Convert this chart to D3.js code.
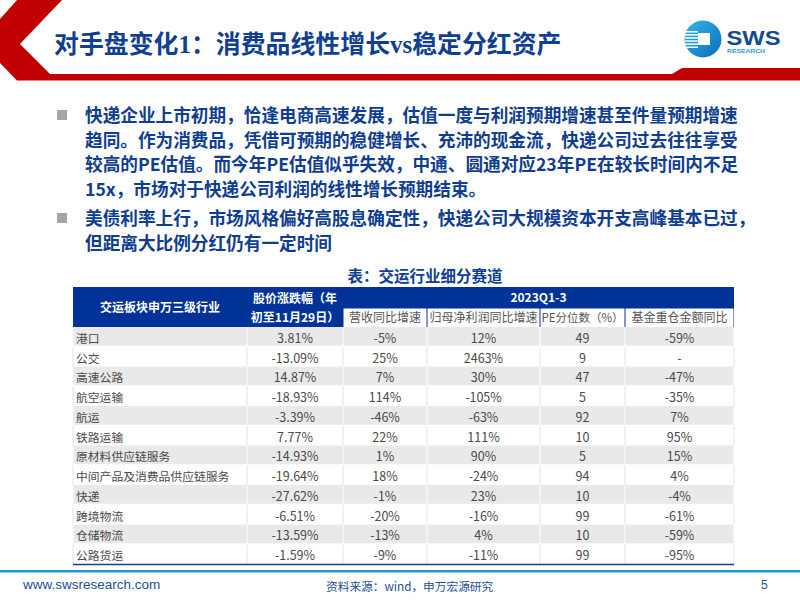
<!DOCTYPE html>
<html>
<head>
<meta charset="utf-8">
<script src="https://cdnjs.cloudflare.com/ajax/libs/d3/7.8.5/d3.min.js"></script>
<style>
  html, body { margin: 0; padding: 0; background: #fff; }
  svg { display: block; }
  text { font-family: "Noto Sans CJK SC", "Noto Sans", sans-serif; }
</style>
</head>
<body lang="zh-CN">
<svg id="slide" width="800" height="600" xmlns="http://www.w3.org/2000/svg"></svg>
<script>
  // full-width punctuation is kept as escapes
  var titleText = '对手盘变化1\uFF1A消费品线性增长vs稳定分红资产';
  var bulletOne = [
    '快递企业上市初期\uFF0C恰逢电商高速发展\uFF0C估值一度与利润预期增速甚至件量预期增速',
    '趋同。作为消费品\uFF0C凭借可预期的稳健增长、充沛的现金流\uFF0C快递公司过去往往享受',
    '较高的PE估值。而今年PE估值似乎失效\uFF0C中通、圆通对应23年PE在较长时间内不足',
    '15x\uFF0C市场对于快递公司利润的线性增长预期结束。'
  ];
  var bulletTwo = [
    '美债利率上行\uFF0C市场风格偏好高股息确定性\uFF0C快递公司大规模资本开支高峰基本已过\uFF0C',
    '但距离大比例分红仍有一定时间'
  ];
  var tableTitle = '表\uFF1A交运行业细分赛道';
  var sourceText = '资料来源\uFF1Awind\uFF0C申万宏源研究';
  var subHeaders = ['营收同比增速', '归母净利润同比增速', 'PE分位数\uFF08%\uFF09', '基金重仓金额同比'];

  var industries = ['港口', '公交', '高速公路', '航空运输', '航运', '铁路运输', '原材料供应链服务',
    '中间产品及消费品供应链服务', '快递', '跨境物流', '仓储物流', '公路货运'];
  var priceChange = ['3.81%', '-13.09%', '14.87%', '-18.93%', '-3.39%', '7.77%', '-14.93%',
    '-19.64%', '-27.62%', '-6.51%', '-13.59%', '-1.59%'];
  var revenueYoy = ['-5%', '25%', '7%', '114%', '-46%', '22%', '1%', '18%', '-1%', '-20%', '-13%', '-9%'];
  var profitYoy = ['12%', '2463%', '30%', '-105%', '-63%', '111%', '90%', '-24%', '23%', '-16%', '4%', '-11%'];
  var pePercentile = ['49', '9', '47', '5', '92', '10', '5', '94', '10', '99', '10', '99'];
  var fundHoldYoy = ['-59%', '-', '-47%', '-35%', '7%', '95%', '15%', '4%', '-4%', '-61%', '-59%', '-95%'];

  var columns = [industries, priceChange, revenueYoy, profitYoy, pePercentile, fundHoldYoy];

  var NAVY = '#003298', INK = '#0f3d91', RED = '#c00000', TEAL = '#1f9ac8', CELL = '#4a4a4a';
  var colEdges = [73, 247, 343, 427, 540, 625, 734];

  var svg = d3.select('#slide');
  var defs = svg.append('defs');
  var grad = defs.append('linearGradient').attr('id', 'logoGrad')
    .attr('x1', 0).attr('y1', 0).attr('x2', 1).attr('y2', 1);
  grad.append('stop').attr('offset', '0%').attr('stop-color', '#35b6ea');
  grad.append('stop').attr('offset', '100%').attr('stop-color', '#0a6cb8');

  drawHeader();
  drawBullets();
  drawTable();
  drawFooter();

  function drawHeader() {
    var line = d3.line();
    svg.append('path')
      .attr('d', line([[17, 0], [62, 0], [20, 44], [50, 74], [672, 74], [682, 68], [800, 68], [800, 80.5], [17, 80.5], [0, 63], [0, 19]]) + 'Z')
      .attr('fill', RED);

    svg.append('text')
      .attr('x', 54).attr('y', 53)
      .attr('font-size', 24.9).attr('font-weight', 700)
      .style('font-family', '"Liberation Serif", "Noto Sans CJK SC", serif')
      .attr('fill', '#103f92')
      .text(titleText);

    // logo
    var logo = svg.append('g');
    logo.append('circle').attr('cx', 703).attr('cy', 39).attr('r', 18.5).attr('fill', 'url(#logoGrad)');
    d3.range(6).forEach(function (i) {
      logo.append('rect')
        .attr('x', 685).attr('y', 31 + i * 3.1)
        .attr('width', 13).attr('height', 1.5)
        .attr('fill', '#fff');
    });
    logo.append('rect').attr('x', 698).attr('y', 33).attr('width', 12).attr('height', 12).attr('fill', '#fff');
    logo.append('text')
      .attr('x', 726.5).attr('y', 44.5)
      .attr('font-size', 20).attr('font-weight', 700)
      .style('font-family', '"Liberation Sans", sans-serif')
      .attr('textLength', 54).attr('lengthAdjust', 'spacingAndGlyphs')
      .attr('fill', '#124a94')
      .text('SWS');
    logo.append('text')
      .attr('x', 727).attr('y', 52.5)
      .attr('font-size', 6).attr('font-weight', 700)
      .style('font-family', '"Liberation Sans", sans-serif')
      .attr('textLength', 38).attr('lengthAdjust', 'spacingAndGlyphs')
      .attr('fill', '#2a9ed8')
      .text('RESEARCH');
  }

  function drawBullets() {
    var paragraphs = [
      { lines: bulletOne, y: 122 },
      { lines: bulletTwo, y: 225 }
    ];
    paragraphs.forEach(function (para) {
      svg.append('rect')
        .attr('x', 57).attr('y', para.y - 12)
        .attr('width', 10).attr('height', 10)
        .attr('fill', '#a6a6a6');
      svg.append('g').selectAll('text')
        .data(para.lines)
        .join('text')
        .attr('x', 85)
        .attr('y', function (d, i) { return para.y + i * 24.5; })
        .attr('font-size', 17.65).attr('font-weight', 700)
        .attr('fill', INK)
        .text(function (d) { return d; });
    });
  }

  function drawTable() {
    var rowScale = d3.scaleBand().domain(industries).range([327, 564]);

    svg.append('text')
      .attr('x', 425).attr('y', 282)
      .attr('text-anchor', 'middle')
      .attr('font-size', 15.5).attr('font-weight', 700)
      .attr('fill', '#103f92')
      .text(tableTitle);

    // header block
    svg.append('rect').attr('x', colEdges[0]).attr('y', 287).attr('width', colEdges[6] - colEdges[0]).attr('height', 40).attr('fill', NAVY);

    var headText = function (x, y, str) {
      svg.append('text')
        .attr('x', x).attr('y', y)
        .attr('text-anchor', 'middle')
        .attr('font-size', 12).attr('font-weight', 700)
        .attr('fill', '#fff')
        .text(str);
    };
    headText((colEdges[0] + colEdges[1]) / 2, 312, '交运板块申万三级行业');
    headText((colEdges[1] + colEdges[2]) / 2, 303, '股价涨跌幅\uFF08年');
    headText((colEdges[1] + colEdges[2]) / 2, 322, '初至11月29日\uFF09');
    headText((colEdges[2] + colEdges[6]) / 2, 302, '2023Q1-3');

    subHeaders.forEach(function (label, i) {
      var x0 = colEdges[i + 2], x1 = colEdges[i + 3];
      svg.append('rect')
        .attr('x', x0 + 0.5).attr('y', 308.5)
        .attr('width', x1 - x0 - 1).attr('height', 18.5)
        .attr('fill', '#fff');
      svg.append('text')
        .attr('x', (x0 + x1) / 2).attr('y', 322)
        .attr('text-anchor', 'middle')
        .attr('font-size', i === 2 ? 11.5 : 12)
        .attr('fill', '#555')
        .text(label);
    });

    // body rows
    var rows = svg.append('g').selectAll('g')
      .data(industries)
      .join('g')
      .attr('transform', function (d) { return 'translate(0,' + rowScale(d) + ')'; });

    rows.append('rect')
      .attr('x', colEdges[0])
      .attr('width', colEdges[6] - colEdges[0])
      .attr('height', rowScale.bandwidth() - 1)
      .attr('fill', function (d, i) { return i % 2 ? '#fff' : '#e9e9e9'; });

    rows.each(function (d, rowIndex) {
      var row = d3.select(this);
      colEdges.forEach(function (edge) {
        row.append('line')
          .attr('x1', edge).attr('x2', edge)
          .attr('y1', 0).attr('y2', rowScale.bandwidth())
          .attr('stroke', rowIndex % 2 ? '#e4e4e4' : '#fff');
      });
      columns.forEach(function (col, c) {
        row.append('text')
          .attr('x', c === 0 ? colEdges[0] + 3 : (colEdges[c] + colEdges[c + 1]) / 2)
          .attr('y', rowScale.bandwidth() / 2 + 6)
          .attr('text-anchor', c === 0 ? 'start' : 'middle')
          .attr('font-size', c === 0 ? 11.8 : 12.5)
          .attr('fill', CELL)
          .text(col[rowIndex]);
      });
    });

    svg.append('line')
      .attr('x1', colEdges[0]).attr('x2', colEdges[6])
      .attr('y1', 564.5).attr('y2', 564.5)
      .attr('stroke', '#1c3f7c').attr('stroke-width', 1.5);
  }

  function drawFooter() {
    svg.append('rect').attr('x', 0).attr('y', 570).attr('width', 800).attr('height', 2.5).attr('fill', TEAL);
    svg.append('text')
      .attr('x', 23).attr('y', 589)
      .attr('font-size', 13.5)
      .style('font-family', '"Liberation Sans", sans-serif')
      .attr('fill', '#1d4f96')
      .text('www.swsresearch.com');
    svg.append('text')
      .attr('x', 326).attr('y', 591)
      .attr('font-size', 11.7)
      .attr('fill', '#1d4f96')
      .text(sourceText);
    svg.append('text')
      .attr('x', 761).attr('y', 589)
      .attr('font-size', 12)
      .style('font-family', '"Liberation Sans", sans-serif')
      .attr('fill', '#1d4f96')
      .text('5');
  }
</script>
</body>
</html>
